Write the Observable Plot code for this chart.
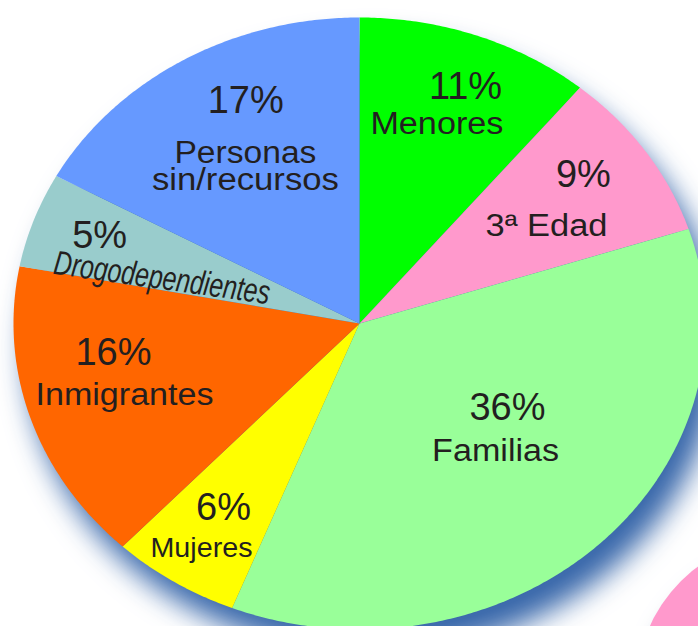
<!DOCTYPE html>
<html><head><meta charset="utf-8">
<script src="https://cdn.jsdelivr.net/npm/d3@7"></script>
<script src="https://cdn.jsdelivr.net/npm/@observablehq/plot@0.6"></script>
<style>html,body{margin:0;padding:0;background:#fff;} svg{display:block}</style>
</head><body><div id="chart"></div>
<script>
// ---- data ----
const categories = ["Menores", "3ª Edad", "Familias", "Mujeres", "Inmigrantes", "Drogodependientes", "Personas\nsin/recursos"];
const values = [11, 9, 36, 6, 16, 5, 17];
const percentLabels = ["11%", "9%", "36%", "6%", "16%", "5%", "17%"];
const colors = ["#00ff00", "#ff99cc", "#99ff99", "#ffff00", "#ff6600", "#99cccc", "#6699ff"];
// decorative disc of a neighbouring chart (bottom-right corner)
const decorX = [1.246];
const decorY = [-1.2];

// ---- layout (angle offset from slice middle in degrees, radius fraction) ----
const pctLayout = [[2.9, .794], [-0.3, .785], [-10.3, .532], [-1.0, .754], [7.1, .724], [-1.7, .790], [5.0, .761]];
const nameLayout = [[0.1, .657], [6.4, .611], [1.9, .596], [-1.45, .888], [-3.5, .730], [-8.7, .586], [-6.4, .548]];
// rendered widths of the name lines (px)
const lineWidths = {"Menores": 133, "3ª Edad": 122, "Familias": 127, "Mujeres": 102, "Inmigrantes": 178, "Drogodependientes": 218, "Personas": 142, "sin/recursos": 187};

const W = 698, H = 626, cx = 359, cy = 323, rx = 346, ry = 306;

const total = d3.sum(values);
let acc = 0;
const slices = values.map((v, i) => {
  const a0 = acc / total * 360; acc += v; const a1 = acc / total * 360;
  return {name: categories[i], pct: percentLabels[i], a0, a1, mid: (a0 + a1) / 2, i};
});
const pts = [];
slices.forEach(s => {
  pts.push({name: s.name, x: 0, y: 0});
  const n = Math.max(8, Math.ceil((s.a1 - s.a0) * 2));
  for (let k = 0; k <= n; k++) {
    const a = (s.a0 + (s.a1 - s.a0) * k / n) * Math.PI / 180;
    pts.push({name: s.name, x: Math.sin(a), y: Math.cos(a)});
  }
  pts.push({name: s.name, x: 0, y: 0});
});
const polar = (deg, r) => { const a = deg * Math.PI / 180; return {x: r * Math.sin(a), y: r * Math.cos(a)}; };
const pctData = slices.map(s => ({text: s.pct, ...polar(s.mid + pctLayout[s.i][0], pctLayout[s.i][1])}));
const nameData = slices.map(s => ({name: s.name, text: s.name, ...polar(s.mid + nameLayout[s.i][0], nameLayout[s.i][1])}));
const decor = decorX.map((x, i) => ({x, y: decorY[i]}));

const ink = "#231f20";
const font = "Liberation Sans, Arial, sans-serif";

const svg = Plot.plot({
  width: W, height: H,
  margin: 0,
  x: {domain: [-cx / rx, (W - cx) / rx], axis: null},
  y: {domain: [-(H - cy) / ry, cy / ry], axis: null},
  color: {domain: categories, range: colors},
  style: {background: "#fff"},
  marks: [
    Plot.dot(decor, {x: "x", y: "y", r: 155, fill: "#ff99cc", stroke: "none"}),
    Plot.line(pts, {x: "x", y: "y", z: "name", fill: "name", stroke: "none", curve: "linear"}),
    Plot.text(pctData, {x: "x", y: "y", text: "text", fontSize: 38, fontFamily: font, fill: ink, textAnchor: "middle", lineAnchor: "bottom"}),
    Plot.text(nameData.filter(d => d.name !== "Mujeres" && d.name !== "Drogodependientes"), {x: "x", y: "y", text: "text", fontSize: 31, lineHeight: 0.87, fontFamily: font, fill: ink, textAnchor: "middle", lineAnchor: "bottom"}),
    Plot.text(nameData.filter(d => d.name === "Mujeres"), {x: "x", y: "y", text: "text", fontSize: 27, fontFamily: font, fill: ink, textAnchor: "middle", lineAnchor: "bottom"}),
    Plot.text(nameData.filter(d => d.name === "Drogodependientes"), {x: "x", y: "y", text: "text", fontSize: 34, fontStyle: "italic", fontFamily: "Liberation Sans Narrow, Liberation Sans, sans-serif", fill: ink, textAnchor: "middle", lineAnchor: "bottom", rotate: 8})
  ]
});
svg.querySelectorAll('g[aria-label="line"], g[aria-label="dot"]').forEach(g => {
  g.style.filter = "drop-shadow(13px 24px 14px rgba(45,95,165,0.95))";
});
// fit name lines to their widths
const textGroups = svg.querySelectorAll('g[aria-label="text"]');
for (let gi = 1; gi < textGroups.length; gi++) {
  textGroups[gi].querySelectorAll("text").forEach(t => {
    const spans = t.querySelectorAll("tspan");
    const targets = spans.length ? Array.from(spans) : [t];
    targets.forEach(el => {
      const w = lineWidths[el.textContent];
      if (w) { el.setAttribute("textLength", w); el.setAttribute("lengthAdjust", "spacingAndGlyphs"); }
    });
  });
}
document.getElementById("chart").appendChild(svg);
</script>
</body></html>
